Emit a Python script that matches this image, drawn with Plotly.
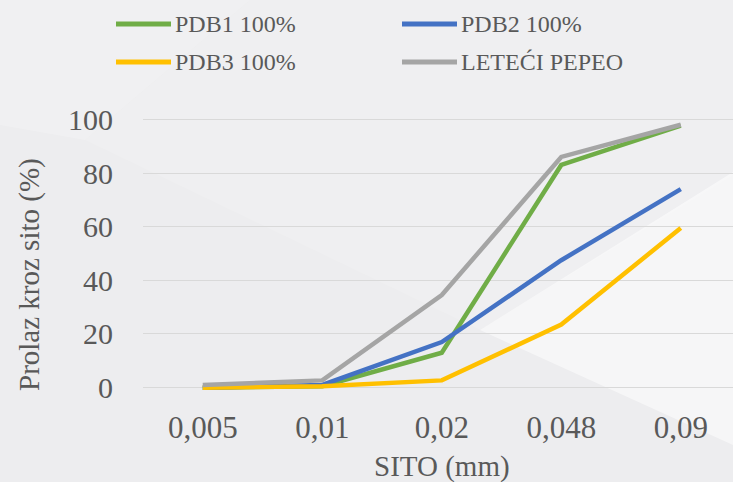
import plotly.graph_objects as go

# Sieve sizes (categorical x axis) and passing percentages
sieves = ["0,005", "0,01", "0,02", "0,048", "0,09"]
pdb1 = [0, 0.5, 13, 83, 97.7]
pdb2 = [0, 1, 17, 47.5, 74]
pdb3 = [0, 0.5, 2.7, 23.5, 59.5]
leteci_pepeo = [1, 2.7, 34.5, 86, 98]
y_ticks = [0, 20, 40, 60, 80, 100]

W, H = 733, 482
ML, MR, MT, MB = 143, 0, 114, 89
PW, PH = W - ML - MR, H - MT - MB

FONT = "Liberation Serif"
TXT = "#595959"


def px(x):
    return (x - ML) / PW


def py(y):
    return (H - MB - y) / PH


fig = go.Figure()

# name, values, colour, legend slot (left x of sample line, centre y)
series = [
    ("PDB1 100%", pdb1, "#70AD47", (116, 24)),
    ("PDB2 100%", pdb2, "#4472C4", (402, 24)),
    ("PDB3 100%", pdb3, "#FFC000", (116, 62)),
    ("LETEĆI PEPEO", leteci_pepeo, "#A5A5A5", (402, 62)),
]
for name, vals, color, _ in series:
    fig.add_trace(go.Scatter(
        x=sieves, y=vals, name=name, mode="lines",
        line=dict(color=color, width=4.5),
        showlegend=False,
    ))

# two-column legend drawn above the plot: long sample line + label
for name, _, color, (lx, ly) in series:
    fig.add_shape(type="line", xref="paper", yref="paper",
                  x0=px(lx), x1=px(lx + 55), y0=py(ly), y1=py(ly),
                  line=dict(color=color, width=5))
    fig.add_annotation(text=name, showarrow=False, xref="paper", yref="paper",
                       x=px(lx + 57), y=py(ly), xanchor="left", yanchor="middle",
                       font=dict(family=FONT, size=24, color=TXT))


# soft background panels
def poly(points, color):
    path = "M " + " L ".join(f"{px(a):.4f},{py(b):.4f}" for a, b in points) + " Z"
    fig.add_shape(type="path", path=path, xref="paper", yref="paper",
                  fillcolor=color, line=dict(width=0), layer="below")


poly([(250, 0), (733, 0), (733, 175), (480, 330), (85, 140)], "rgba(255,255,255,0.12)")
poly([(0, 0), (250, 0), (85, 140), (0, 125)], "rgba(255,255,255,0.2)")
poly([(480, 330), (733, 172), (733, 445)], "rgba(255,255,255,0.5)")

fig.add_annotation(text="Prolaz kroz sito (%)", textangle=-90, showarrow=False,
                   xref="paper", yref="paper", x=px(29), y=py(275),
                   xanchor="center", yanchor="middle",
                   font=dict(family=FONT, size=29, color=TXT))
fig.add_annotation(text="SITO (mm)", showarrow=False,
                   xref="paper", yref="paper", x=px(442), y=py(466),
                   xanchor="center", yanchor="middle",
                   font=dict(family=FONT, size=29, color=TXT))

fig.update_layout(
    width=W, height=H,
    font=dict(family=FONT, color=TXT),
    margin=dict(l=ML, r=MR, t=MT, b=MB, pad=0),
    paper_bgcolor="#EDEDEF",
    plot_bgcolor="rgba(0,0,0,0)",
    showlegend=False,
    xaxis=dict(
        type="category", range=[-0.5, 4.437],
        showgrid=False, zeroline=False, showline=False,
        ticks="outside", ticklen=7, tickcolor="rgba(0,0,0,0)",
        tickfont=dict(family=FONT, size=31, color=TXT),
    ),
    yaxis=dict(
        range=[-2, 102], tickvals=y_ticks,
        showgrid=True, gridcolor="#D9D9D9", gridwidth=1.3,
        zeroline=False, showline=False,
        ticks="outside", ticklen=23, tickcolor="rgba(0,0,0,0)",
        tickfont=dict(family=FONT, size=30, color=TXT),
    ),
)

fig.write_html("out.html")
